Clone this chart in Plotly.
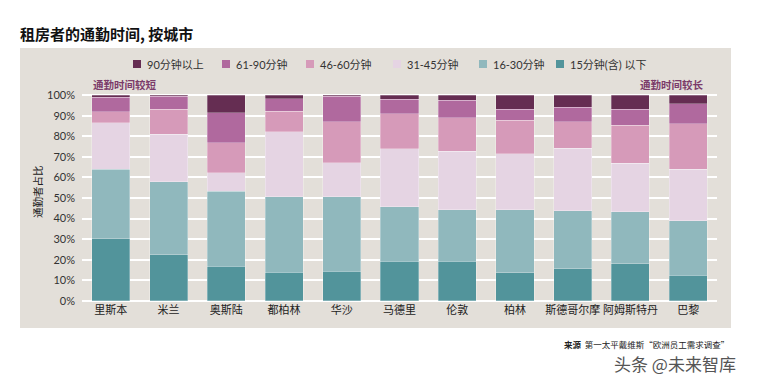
import plotly.graph_objects as go

cities = ["里斯本", "米兰", "奥斯陆", "都柏林", "华沙", "马德里", "伦敦", "柏林", "斯德哥尔摩", "阿姆斯特丹", "巴黎"]
series_names = ["15分钟(含) 以下", "16-30分钟", "31-45分钟", "46-60分钟", "61-90分钟", "90分钟以上"]
le15 = [30.1, 22.5, 16.9, 13.9, 14.4, 19.3, 19.3, 13.6, 15.6, 18.0, 12.5]
m16_30 = [33.8, 35.4, 36.4, 36.7, 36.2, 26.4, 25.1, 30.8, 28.2, 25.4, 26.4]
m31_45 = [22.6, 23.1, 9.1, 31.6, 16.5, 28.2, 28.4, 27.2, 30.4, 23.4, 25.0]
m46_60 = [5.4, 12.2, 14.4, 10.0, 20.1, 17.0, 16.2, 16.2, 13.0, 18.6, 22.2]
m61_90 = [7.0, 6.3, 14.8, 6.2, 12.2, 7.2, 8.6, 5.4, 7.0, 7.8, 9.7]
gt90 = [1.1, 0.5, 8.4, 1.6, 0.6, 1.9, 2.4, 6.8, 5.8, 6.8, 4.2]
series_values = [le15, m16_30, m31_45, m46_60, m61_90, gt90]
colors = ["#52949b", "#90b8bd", "#e5d4e3", "#d69ab9", "#b0699e", "#652d52"]
y_ticks = [0, 10, 20, 30, 40, 50, 60, 70, 80, 90, 100]
y_ticklabels = [f"{v}%" for v in y_ticks]

FONT = "Lato, 'Noto Sans CJK SC', sans-serif"
CJK = "'Noto Sans CJK SC', sans-serif"

fig = go.Figure()
for name, vals, col in zip(series_names, series_values, colors):
    fig.add_trace(go.Bar(
        x=cities, y=vals, name=name,
        marker=dict(color=col, line=dict(color="rgba(255,255,255,0.35)", width=0.8)),
        width=0.66, showlegend=False,
    ))

# page body has an 8px margin: figure origin sits at (8, 8) of the window
OFF = 8
W, H = 757 - OFF, 382 - OFF
# plot area in window pixels: x 82..717, y 94..302
PL, PR, PT, PB = 82, 717, 94, 302
L, R, T, B = PL - OFF, (W + OFF) - PR, PT - OFF, (H + OFF) - PB
pw = PR - PL
ph = PB - PT

def px_x(px):
    return (px - PL) / pw

def px_y(py):
    return (PB - py) / ph

shapes = [dict(type="rect", xref="paper", yref="paper", x0=px_x(20), x1=px_x(731), y0=px_y(328), y1=px_y(48),
               fillcolor="#e3dfd9", line=dict(width=0), layer="below")]
annotations = []

# manual legend (order top: 90+ first)
legend_x = [133, 222, 306, 393, 479, 556]
leg_names = list(reversed(series_names))
leg_cols = list(reversed(colors))
for lx, nm, c in zip(legend_x, leg_names, leg_cols):
    shapes.append(dict(type="rect", xref="paper", yref="paper", x0=px_x(lx), x1=px_x(lx + 8),
                       y0=px_y(68), y1=px_y(60), fillcolor=c, line=dict(width=0)))
    annotations.append(dict(xref="paper", yref="paper", x=px_x(lx + 12), y=px_y(64), text=nm, showarrow=False,
                            xanchor="left", yanchor="middle", font=dict(family=FONT, size=11, color="#333333")))

annotations += [
    dict(xref="paper", yref="paper", x=px_x(91), y=px_y(85), text="<b>通勤时间较短</b>", showarrow=False,
         xanchor="left", yanchor="middle", font=dict(family=CJK, size=10.5, color="#7b3b6a")),
    dict(xref="paper", yref="paper", x=px_x(706), y=px_y(85), text="<b>通勤时间较长</b>", showarrow=False,
         xanchor="right", yanchor="middle", font=dict(family=CJK, size=10.5, color="#7b3b6a")),
    dict(xref="paper", yref="paper", x=px_x(37), y=px_y(192), text="通勤者占比", showarrow=False, textangle=-90,
         xanchor="center", yanchor="middle", font=dict(family=CJK, size=10.5, color="#222222")),
    dict(xref="paper", yref="paper", x=px_x(731), y=px_y(344),
         text="<b>来源</b>  第一太平戴维斯“欧洲员工需求调查”", showarrow=False,
         xanchor="right", yanchor="middle", font=dict(family=CJK, size=8.5, color="#222222")),
    dict(xref="paper", yref="paper", x=px_x(737), y=px_y(350), text="头条 @未来智库", showarrow=False,
         xanchor="right", yanchor="top", borderpad=0, font=dict(family=CJK, size=17, color="#555555")),
]

fig.update_layout(
    width=W, height=H,
    margin=dict(l=L, r=R, t=T, b=B, autoexpand=False),
    barmode="stack",
    paper_bgcolor="white",
    plot_bgcolor="rgba(0,0,0,0)",
    title=dict(text="<b>租房者的通勤时间, 按城市</b>", xref="container", yref="container",
               x=(20 - OFF) / W, y=1 - (35 - OFF) / H, xanchor="left", yanchor="middle",
               font=dict(family=CJK, size=15, color="#111111")),
    shapes=shapes,
    annotations=annotations,
    font=dict(family=FONT, size=11, color="#333333"),
)
fig.update_xaxes(range=[-0.5, 10.5], showgrid=False, zeroline=False, showline=False, ticks="",
                 tickfont=dict(family=CJK, size=11, color="#222222"), fixedrange=True)
fig.update_yaxes(range=[-0.6, 100.6], tickvals=y_ticks, ticktext=y_ticklabels, showgrid=True,
                 gridcolor="white", gridwidth=1.6, zeroline=False, showline=False, ticks="",
                 ticklabelstandoff=6, tickfont=dict(family=FONT, size=11, color="#333333"), fixedrange=True)

fig.write_html("out.html")
